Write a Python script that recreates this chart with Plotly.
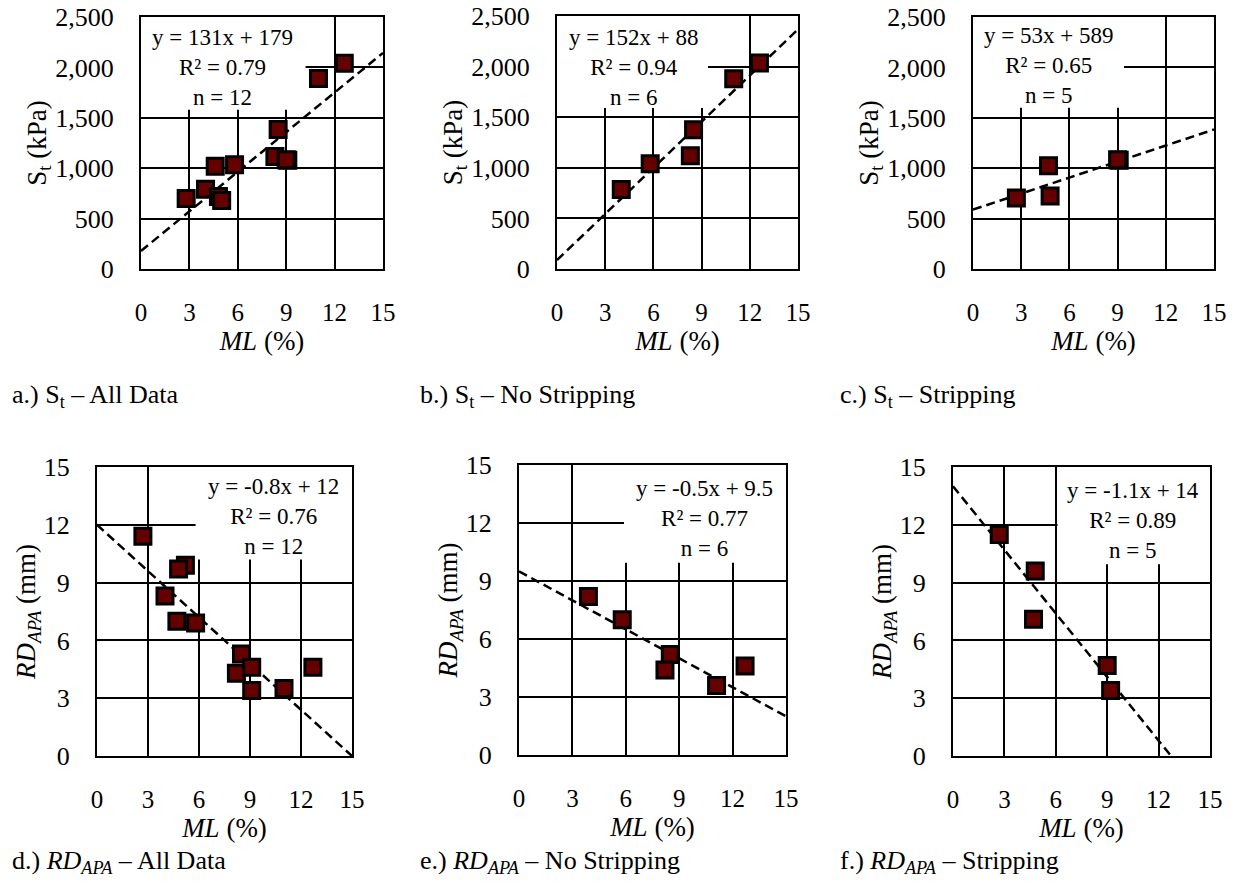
import plotly.graph_objects as go

# ---- data -------------------------------------------------------------
# Indirect tensile strength St (kPa) vs. ML (%)
st_all_ml = [2.8, 4.0, 4.6, 5.8, 4.8, 5.0, 8.5, 8.3, 9.1, 9.0, 11.0, 12.6]
st_all_val = [700, 790, 1020, 1035, 720, 680, 1385, 1115, 1080, 1085, 1890, 2040]
st_nostrip_ml = [4.0, 5.8, 8.5, 8.3, 11.0, 12.6]
st_nostrip_val = [785, 1040, 1375, 1120, 1880, 2035]
st_strip_ml = [2.7, 4.7, 4.8, 9.1, 9.0]
st_strip_val = [705, 1025, 725, 1080, 1085]

# Rut depth RD_APA (mm) vs. ML (%)
rd_all_ml = [2.7, 5.2, 4.8, 4.0, 4.7, 5.8, 8.5, 8.2, 9.1, 9.1, 11.0, 12.7]
rd_all_val = [11.4, 9.9, 9.7, 8.3, 7.0, 6.9, 5.3, 4.3, 4.6, 3.4, 3.5, 4.6]
rd_nostrip_ml = [3.9, 5.8, 8.5, 8.2, 11.1, 12.7]
rd_nostrip_val = [8.2, 7.0, 5.2, 4.4, 3.6, 4.6]
rd_strip_ml = [2.7, 4.8, 4.7, 9.0, 9.2]
rd_strip_val = [11.5, 9.6, 7.1, 4.7, 3.4]

# Linear fits: slope, intercept, R², n
fit_slope = [131, 152, 53, -0.8, -0.5, -1.1]
fit_intercept = [179, 88, 589, 12, 9.5, 14]
fit_r2 = ["0.79", "0.94", "0.65", "0.76", "0.77", "0.89"]
fit_n = [12, 6, 5, 12, 6, 5]

x_ticks = [0, 3, 6, 9, 12, 15]
st_ticks = [0, 500, 1000, 1500, 2000, 2500]
rd_ticks = [0, 3, 6, 9, 12, 15]

captions = [
    "a.) S<sub>t</sub> – All Data",
    "b.) S<sub>t</sub> – No Stripping",
    "c.) S<sub>t</sub> – Stripping",
    "d.) <i>RD<sub>APA</sub></i> – All Data",
    "e.) <i>RD<sub>APA</sub></i> – No Stripping",
    "f.) <i>RD<sub>APA</sub></i> – Stripping",
]

panels_x = [st_all_ml, st_nostrip_ml, st_strip_ml, rd_all_ml, rd_nostrip_ml, rd_strip_ml]
panels_y = [st_all_val, st_nostrip_val, st_strip_val, rd_all_val, rd_nostrip_val, rd_strip_val]

# ---- layout geometry (pixels) ----------------------------------------
W, H = 1234, 892
FONT = "Liberation Serif"
# plot-area rectangles: left, right, top, bottom
rects = [
    (141, 383, 17, 269),
    (557, 798, 16, 269),
    (973, 1214, 17, 269),
    (97, 352, 467, 756),
    (519, 786, 465, 755),
    (953, 1210, 467, 756),
]
# white label boxes in data units: x0, x1, y0, y1
label_boxes = [
    (0, 10.2, 1580, 2500),
    (0, 9.4, 1590, 2500),
    (0, 9.4, 1600, 2500),
    (5.8, 15, 10.2, 15),
    (5.9, 15, 9.95, 15),
    (6.1, 15, 9.95, 15),
]
# label text centres (pixels)
label_pos = [(222, 67), (633, 67), (1048, 66), (273, 516), (704, 518), (1133, 520)]
caption_pos = [(10, 396), (418, 396), (838, 396), (10, 862), (418, 862), (838, 862)]


def px(x):
    return x / W


def py(y):
    return (H - y) / H


fig = go.Figure()
annotations = []
shapes = []

for i in range(6):
    k = "" if i == 0 else str(i + 1)
    xa, ya = "x" + k, "y" + k
    left, right, top, bottom = rects[i]
    is_st = i < 3

    # trend line across the full x range
    fig.add_trace(go.Scatter(
        x=[0, 15],
        y=[fit_intercept[i], fit_slope[i] * 15 + fit_intercept[i]],
        mode="lines",
        line=dict(color="black", width=2.5, dash="9px,5px"),
        xaxis=xa, yaxis=ya, showlegend=False, hoverinfo="skip",
    ))
    # measured points
    fig.add_trace(go.Scatter(
        x=panels_x[i], y=panels_y[i], mode="markers",
        marker=dict(symbol="square", size=16, color="#650000",
                    line=dict(color="black", width=3)),
        xaxis=xa, yaxis=ya, showlegend=False, cliponaxis=False,
    ))

    axis_common = dict(
        showgrid=True, gridcolor="black", gridwidth=1.7,
        showline=True, linecolor="black", linewidth=2, mirror=True,
        zeroline=False, ticks="", fixedrange=True, automargin=False,
    )
    fig.layout["xaxis" + k] = dict(
        axis_common,
        domain=[px(left), px(right)], anchor=ya,
        range=[0, 15], tickvals=x_ticks, ticklabelstandoff=20,
        tickfont=dict(family=FONT, size=25, color="black"),
        title=dict(text="<i>ML</i> (%)", standoff=6,
                   font=dict(family=FONT, size=27, color="black")),
    )
    fig.layout["yaxis" + k] = dict(
        axis_common,
        domain=[py(bottom), py(top)], anchor=xa,
        range=[0, 2500] if is_st else [0, 15],
        tickvals=st_ticks if is_st else rd_ticks,
        tickformat=",", ticklabelstandoff=20,
        tickfont=dict(family=FONT, size=26, color="black"),
        title=dict(
            text="S<sub>t</sub> (kPa)" if is_st else "<i>RD<sub>APA</sub></i> (mm)",
            standoff=1 if is_st else 0,
            font=dict(family=FONT, size=27, color="black")),
    )

    bx0, bx1, by0, by1 = label_boxes[i]
    shapes.append(dict(type="rect", xref=xa, yref=ya, x0=bx0, x1=bx1, y0=by0, y1=by1,
                       fillcolor="white", line=dict(width=0), layer="between"))

    if fit_intercept[i] >= 0:
        eq = f"y = {fit_slope[i]}x + {fit_intercept[i]}"
    else:
        eq = f"y = {fit_slope[i]}x - {abs(fit_intercept[i])}"
    lx, ly = label_pos[i]
    annotations.append(dict(
        text=f"{eq}<br>R² = {fit_r2[i]}<br>n = {fit_n[i]}",
        xref="paper", yref="paper", x=px(lx), y=py(ly),
        xanchor="center", yanchor="middle", showarrow=False, align="center",
        font=dict(family=FONT, size=23, color="black"),
    ))

    cx, cy = caption_pos[i]
    annotations.append(dict(
        text=captions[i], xref="paper", yref="paper", x=px(cx), y=py(cy),
        xanchor="left", yanchor="middle", showarrow=False,
        font=dict(family=FONT, size=26, color="black"),
    ))

fig.update_layout(
    width=W, height=H, margin=dict(l=0, r=0, t=0, b=0, autoexpand=False),
    paper_bgcolor="white", plot_bgcolor="white",
    annotations=annotations, shapes=shapes,
    font=dict(family=FONT, color="black"),
)

fig.write_html("out.html")
